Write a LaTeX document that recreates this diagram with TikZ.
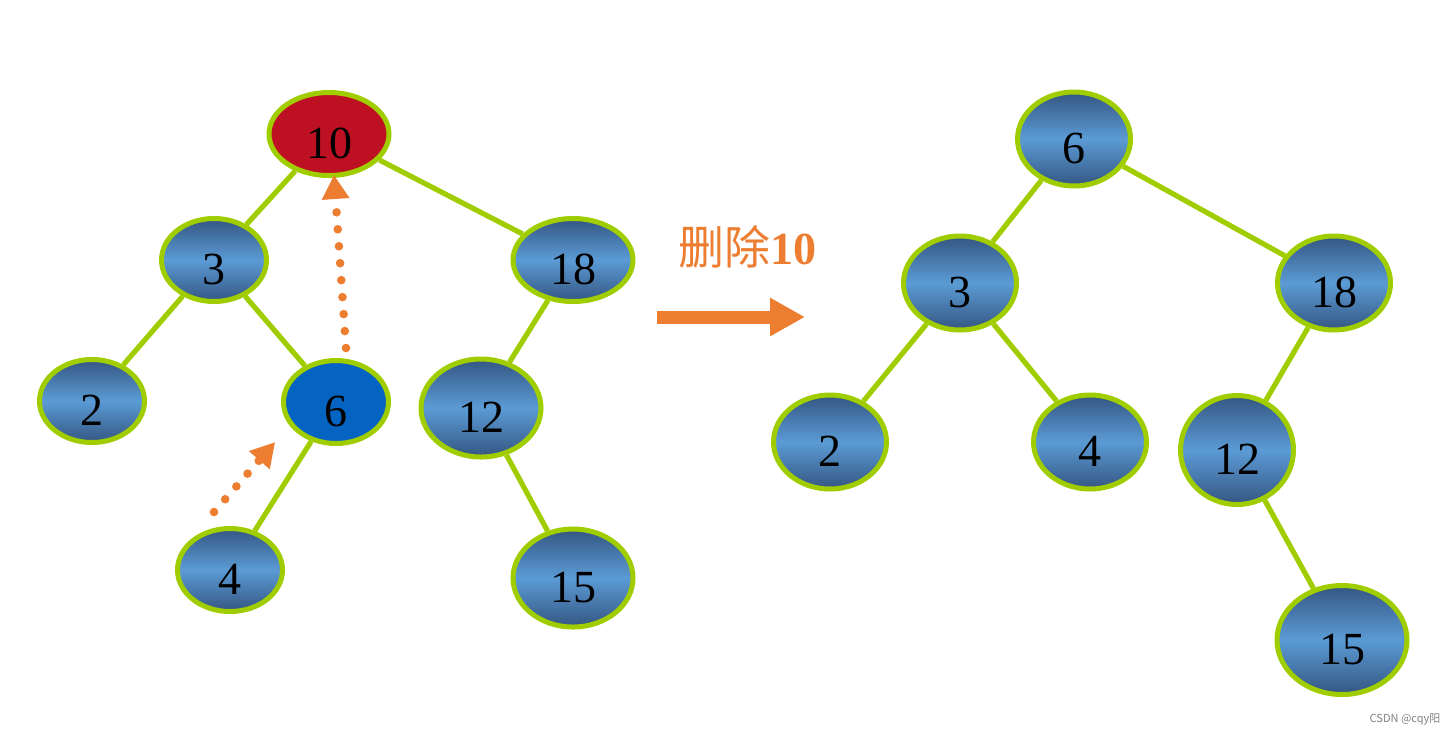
\documentclass[tikz,border=0pt]{standalone}
\usepackage{fontspec}
\setmainfont{Liberation Serif}
\newfontfamily\cjkfont{Noto Sans CJK SC}
\usetikzlibrary{shapes.geometric, arrows.meta, positioning}

\definecolor{treegreen}{RGB}{160,205,0}
\definecolor{nodedark}{RGB}{52,86,130}
\definecolor{nodelight}{RGB}{91,155,213}
\definecolor{rootred}{RGB}{190,16,35}
\definecolor{movedblue}{RGB}{5,99,193}
\definecolor{markorange}{RGB}{237,125,49}

\begin{document}
\begin{tikzpicture}[
    x=0.5pt, y=-0.5pt,
    every node/.style={font=\fontsize{23}{23}\selectfont},
    treenode/.style={
        ellipse, draw=treegreen, line width=2.5pt,
        inner sep=0pt, text height=24pt, text depth=0pt
    },
    shaded/.style={
        top color=nodedark, bottom color=nodedark, middle color=nodelight
    },
    oldnode/.style={minimum width=52.5pt, minimum height=41.5pt},
    oldwide/.style={minimum width=60pt, minimum height=41.5pt},
    oldtall/.style={minimum width=60pt, minimum height=49pt},
    newnode/.style={minimum width=56.5pt, minimum height=47pt},
    newtall/.style={minimum width=56.5pt, minimum height=54.5pt},
    newbig/.style={minimum width=65pt, minimum height=54.5pt},
    edge/.style={draw=treegreen, line width=2.6pt},
    dotarrow/.style={
        draw=markorange, line width=4.3pt, line cap=round,
        dash pattern=on 0pt off 8.5pt,
        -{Triangle[length=12pt, width=13pt]}
    },
    bigarrow/.style={
        draw=markorange, line width=6.5pt,
        -{Triangle[length=17.5pt, width=18pt]}
    },
]
\useasboundingbox (0,0) rectangle (1455,736);

% Tree before deleting
\node (old_10) [treenode, oldwide, fill=rootred] at (329,134) {10};
\node (old_3)  [treenode, oldnode, shaded] at (214,260) {3};
\node (old_18) [treenode, oldwide, shaded] at (573,260) {18};
\node (old_2)  [treenode, oldnode, shaded] at (92,401) {2};
\node (old_6)  [treenode, oldnode, fill=movedblue] at (336,402) {6};
\node (old_12) [treenode, oldtall, shaded] at (481,408) {12};
\node (old_4)  [treenode, oldnode, shaded] at (230,570) {4};
\node (old_15) [treenode, oldtall, shaded] at (573,578) {15};

\draw [edge] (old_10) -- (old_3);
\draw [edge] (old_10) -- (old_18);
\draw [edge] (old_3) -- (old_2);
\draw [edge] (old_3) -- (old_6);
\draw [edge] (old_18) -- (old_12);
\draw [edge] (old_6) -- (old_4);
\draw [edge] (old_12) -- (old_15);

% Moves
\draw [dotarrow] ([shift={(5pt,5pt)}]old_6.north) -- ([shift={(2.5pt,1.5pt)}]old_10.south);
\draw [dotarrow] ([shift={(-8pt,7pt)}]old_4.north) -- ([shift={(-11pt,-4.5pt)}]old_6.south west);

% Delete step
\coordinate (move_start) at (657,317);
\coordinate (move_end) at (805,317);
\draw [bigarrow] (move_start) -- (move_end);
\node (del_label) [text=markorange] at (747,247) {{\cjkfont 删除}\textbf{10}};

% Tree after deleting
\node (new_6)  [treenode, newnode, shaded] at (1074,139) {6};
\node (new_3)  [treenode, newnode, shaded] at (960,283) {3};
\node (new_18) [treenode, newnode, shaded] at (1334,283) {18};
\node (new_2)  [treenode, newnode, shaded] at (830,442) {2};
\node (new_4)  [treenode, newnode, shaded] at (1090,442) {4};
\node (new_12) [treenode, newtall, shaded] at (1237,450) {12};
\node (new_15) [treenode, newbig, shaded] at (1342,640) {15};

\draw [edge] (new_6) -- (new_3);
\draw [edge] (new_6) -- (new_18);
\draw [edge] (new_3) -- (new_2);
\draw [edge] (new_3) -- (new_4);
\draw [edge] (new_18) -- (new_12);
\draw [edge] (new_12) -- (new_15);

\node (mark) [text=gray, font=\cjkfont\fontsize{5.5}{6}\selectfont] at (1405,719) {CSDN @cqy阳};

\end{tikzpicture}
\end{document}
